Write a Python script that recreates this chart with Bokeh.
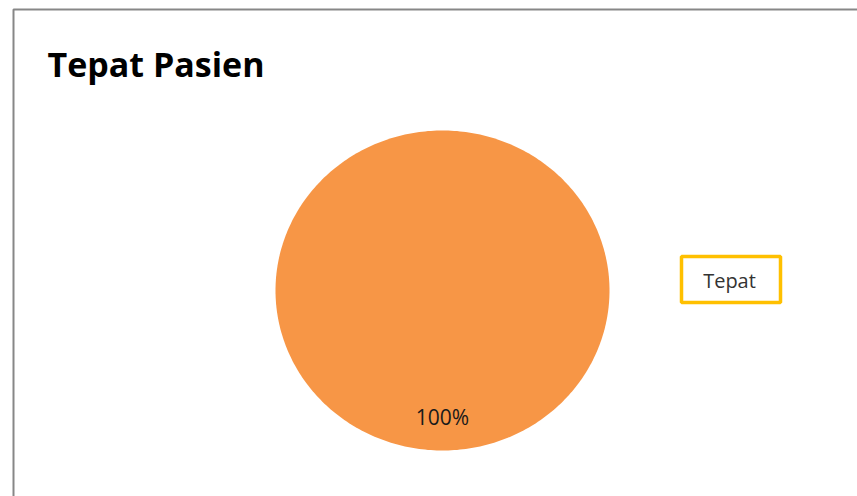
import math
from bokeh.plotting import figure
from bokeh.models import Range1d
from bokeh.core.properties import value
from bokeh.embed import file_html
from bokeh.resources import INLINE

# ---- data ----
title_text = "Tepat Pasien"
categories = ["Tepat"]
values = [100]
slice_colors = ["#F79646"]
label_texts = ["100%"]

W, H = 857, 496
p = figure(width=W, height=H, x_range=Range1d(0, W), y_range=Range1d(H, 0),
           output_backend="svg", toolbar_location=None, min_border=0,
           background_fill_color="white", border_fill_color="white",
           outline_line_color=None)
p.axis.visible = False
p.grid.visible = False

# chart border (only left/top visible in the window)
p.quad(left=[13], right=[W + 50], top=[9], bottom=[H + 50],
       fill_color=None, line_color="#878787", line_width=2)

# title
p.text(x=[47], y=[63], text=[title_text], text_font=value("Open Sans"),
       text_font_style="bold", text_font_size="34px", text_color="black",
       text_baseline="middle", text_align="left")

# pie (ellipse-shaped as in reference)
cx, cy, rx, ry = 442, 290, 167, 160
total = float(sum(values))
start = 0.0
xs, ys, lx, ly = [], [], [], []
for v in values:
    frac = v / total
    a0 = start * 2 * math.pi
    a1 = (start + frac) * 2 * math.pi
    n = max(4, int(360 * frac))
    px, py = [], []
    if frac < 1:
        px.append(cx); py.append(cy)
    for i in range(n + 1):
        a = a0 + (a1 - a0) * i / n
        px.append(cx + rx * math.sin(a))
        py.append(cy - ry * math.cos(a))
    xs.append(px); ys.append(py)
    am = (a0 + a1) / 2
    lx.append(cx + 0.79 * rx * math.sin(am))
    ly.append(cy - 0.79 * ry * math.cos(am))
    start += frac

p.patches(xs=xs, ys=ys, fill_color=slice_colors, line_color=None)
p.text(x=lx, y=ly, text=label_texts, text_font=value("Open Sans"),
       text_font_size="21px", text_color="#1a1a1a",
       text_align="center", text_baseline="middle")

# legend (box with label, no swatch as in reference)
leg_y0 = 279
for i, c in enumerate(categories):
    p.quad(left=[681], right=[780], top=[256 + i * 50], bottom=[302 + i * 50],
           fill_color="white", line_color="#FFC000", line_width=3.5)
    p.text(x=[729], y=[leg_y0 + i * 50 + 1], text=[c], text_font=value("Open Sans"),
           text_font_size="20px", text_color="#333333",
           text_align="center", text_baseline="middle")

open("out.html", "w").write(file_html(p, INLINE))
